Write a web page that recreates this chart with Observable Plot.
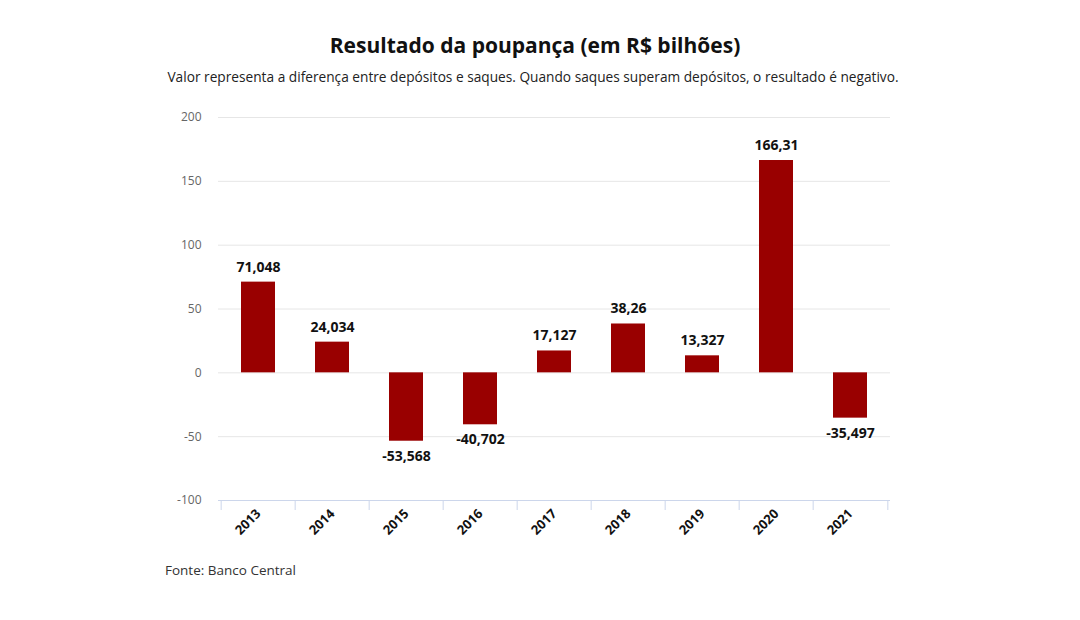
<!DOCTYPE html>
<html>
<head>
<meta charset="utf-8">
<script src="https://cdn.jsdelivr.net/npm/d3@7"></script>
<script src="https://cdn.jsdelivr.net/npm/@observablehq/plot@0.6"></script>
<style>
  body { margin: 0; background: #fff; font-family: "Open Sans", sans-serif; width: 1080px; }
  #title { padding-top: 32px; height: 26px; line-height: 26px; font-size: 21px; font-weight: 700; text-align: center; color: #111; padding-right: 10px; }
  #subtitle { margin-top: 9px; height: 20px; line-height: 20px; font-size: 13.7px; text-align: center; color: #222; padding-right: 14px; }
  #chart svg { display: block; margin-top: 8px; }
  #caption { margin-top: 5px; height: 20px; line-height: 20px; padding-left: 165px; font-size: 13.5px; color: #333; }
</style>
</head>
<body>
<div id="title">Resultado da poupança (em R$ bilhões)</div>
<div id="subtitle">Valor representa a diferença entre depósitos e saques. Quando saques superam depósitos, o resultado é negativo.</div>
<div id="chart"></div>
<div id="caption">Fonte: Banco Central</div>
<script>
const years = ["2013", "2014", "2015", "2016", "2017", "2018", "2019", "2020", "2021"];
const values = [71.048, 24.034, -53.568, -40.702, 17.127, 38.26, 13.327, 166.31, -35.497];
const yTicks = [-100, -50, 0, 50, 100, 150, 200];

const data = years.map((y, i) => ({year: y, value: values[i]}));
const fmt = v => String(v).replace(".", ",");

const W = 1080, H = 460, mL = 218, mR = 190, mT = 22, mB = 55;
const bw = (W - mL - mR) / years.length;

const chart = Plot.plot({
  width: W,
  height: H,
  marginLeft: mL,
  marginRight: mR,
  marginTop: mT,
  marginBottom: mB,
  style: {fontFamily: "Open Sans, sans-serif", background: "#fff"},
  x: {domain: years, padding: 0, label: null},
  y: {domain: [-100, 200], label: null},
  marks: [
    Plot.gridY(yTicks, {stroke: "#e6e6e6", strokeOpacity: 1}),
    Plot.axisY(yTicks, {tickSize: 0, tickPadding: 17, fill: "#666", fontSize: 12, label: null, tickFormat: d => String(d)}),
    Plot.barY(data, {x: "year", y: "value", fill: "#990000", insetLeft: 20, insetRight: 20}),
    Plot.ruleY([-100], {stroke: "#ccd6eb"}),
    Plot.ruleX(years, {x: d => d, y1: -100, y2: -100, insetBottom: -10, dx: -bw / 2, stroke: "#ccd6eb"}),
    Plot.ruleX([years[years.length - 1]], {x: d => d, y1: -100, y2: -100, insetBottom: -10, dx: bw / 2, stroke: "#ccd6eb"}),
    Plot.axisX({tickSize: 0, tickRotate: -45, tickPadding: 11, fontSize: 13, fontWeight: "bold", fill: "#111", label: null}),
    Plot.text(data.filter(d => d.value >= 0), {x: "year", y: "value", text: d => fmt(d.value), dy: -15, fontSize: 14, fontWeight: "bold", fill: "#111"}),
    Plot.text(data.filter(d => d.value < 0), {x: "year", y: "value", text: d => fmt(d.value), dy: 15, fontSize: 14, fontWeight: "bold", fill: "#111"})
  ]
});
document.getElementById("chart").appendChild(chart);
</script>
</body>
</html>
